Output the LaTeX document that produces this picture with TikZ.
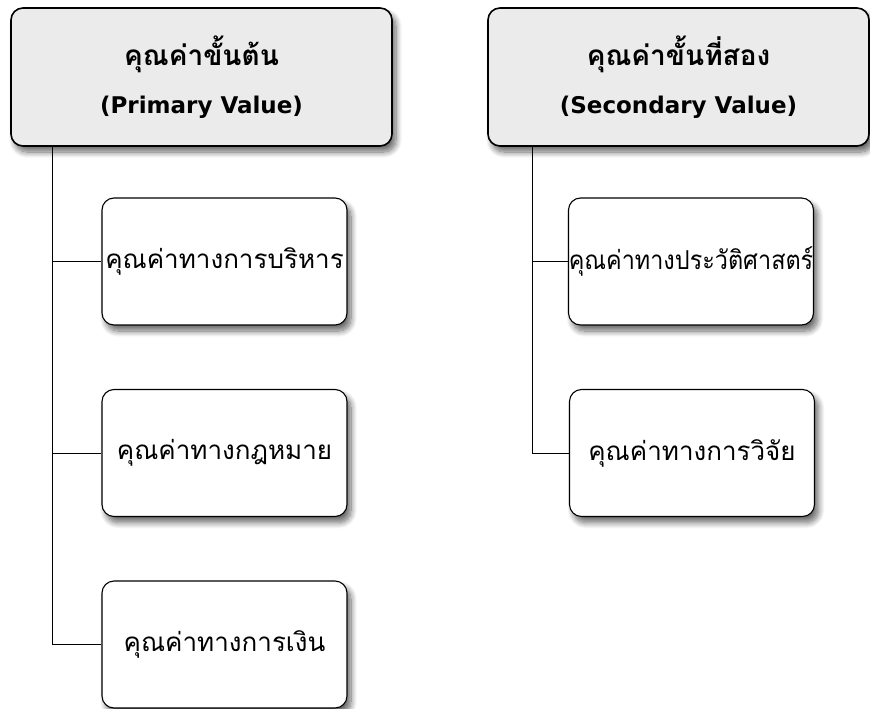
\documentclass[tikz,border=0pt]{standalone}
\usepackage{fontspec}
\setmainfont[Script=Thai]{Loma}
\newfontfamily\latinhead{DejaVu Sans}
\usetikzlibrary{shadows.blur}
\definecolor{headfill}{HTML}{EBEBEB}
\tikzset{
  headbox/.style={draw=black, line width=1.6pt, rounded corners=12pt, fill=headfill,
    minimum width=381pt, minimum height=138pt, align=center, font=\bfseries\fontsize{28}{48}\selectfont,
    blur shadow={shadow xshift=4pt, shadow yshift=-6pt, shadow blur steps=10, shadow blur radius=6pt, shadow opacity=60}},
  childbox/.style={draw=black, line width=1.1pt, rounded corners=12pt, fill=white,
    minimum width=245pt, minimum height=127pt, inner sep=0pt, font=\fontsize{26}{30}\selectfont,
    blur shadow={shadow xshift=4pt, shadow yshift=-6pt, shadow blur steps=10, shadow blur radius=6pt, shadow opacity=60}},
  latinline/.style={},
  link/.style={draw=black, line width=0.8pt}
}
\newcommand{\hdlatin}[1]{{\latinhead\bfseries\fontsize{23}{48}\selectfont #1}}
\begin{document}
\begin{tikzpicture}[x=1pt,y=-1pt]
\useasboundingbox (0,0) rectangle (870,709);
\coordinate (lt) at (52,146);
\coordinate (rt) at (532,146);
\node[headbox] (h1) at (201.5,77) {คุณค่าขั้นต้น\\\hdlatin{(Primary Value)}};
\node[headbox] (h2) at (678.5,77) {คุณค่าขั้นที่สอง\\\hdlatin{(Secondary Value)}};
\node[childbox] (a1) at (224.5,261.5) {คุณค่าทางการบริหาร};
\node[childbox] (a2) at (224.5,453) {คุณค่าทางกฎหมาย};
\node[childbox] (a3) at (224.5,644.5) {คุณค่าทางการเงิน};
\node[childbox] (b1) at (691,261.5) {\scalebox{0.9}[1]{คุณค่าทางประวัติศาสตร์}};
\node[childbox] (b2) at (692,453) {คุณค่าทางการวิจัย};
\draw[link] (h1.south -| lt) |- (a1.west);
\draw[link] (h1.south -| lt) |- (a2.west);
\draw[link] (h1.south -| lt) |- (a3.west);
\draw[link] (h2.south -| rt) |- (b1.west);
\draw[link] (h2.south -| rt) |- (b2.west);
\end{tikzpicture}
\end{document}
